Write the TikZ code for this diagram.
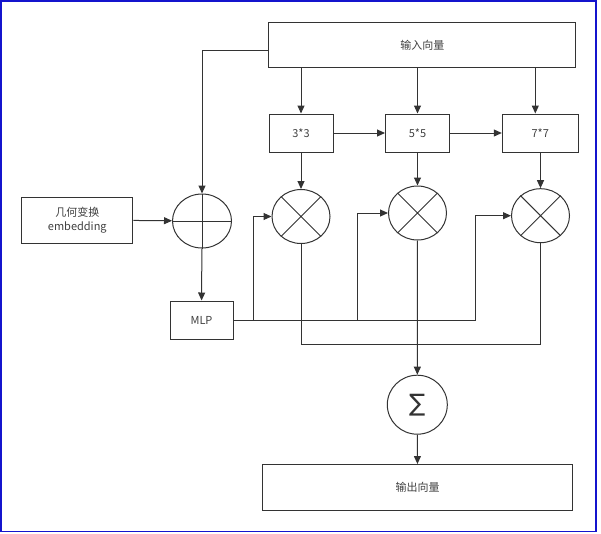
\documentclass[tikz,border=0pt]{standalone}
\usepackage{fontspec}
\setmainfont{Noto Sans CJK SC}
\newfontfamily\symfont{DejaVu Sans}
\usetikzlibrary{arrows.meta,shapes.geometric,calc}

\definecolor{linegray}{HTML}{333333}
\definecolor{textgray}{HTML}{404040}
\definecolor{frameblue}{RGB}{20,20,205}

\tikzset{
  box/.style={draw=linegray,line width=1pt,rectangle,inner sep=0pt,
    text=textgray,font=\fontsize{11}{14}\selectfont,align=center},
  op/.style={draw=linegray,line width=1pt,ellipse,inner sep=0pt,
    minimum width=58pt,minimum height=54pt},
  wire/.style={draw=linegray,line width=1pt},
  flow/.style={wire,-{Triangle[length=8pt,width=7pt]}}
}

\begin{document}
\begin{tikzpicture}[x=1pt,y=-1pt]

        \useasboundingbox (0,0) rectangle (601,533);
        \draw[frameblue,line width=1.5pt] (0.75,0.75) rectangle (596,531.5);

        \begin{scope}[every node/.style={box}]
          \node[minimum width=307pt,minimum height=45pt] (in)  at (422.3,45)  {输入向量};
          \node[minimum width=64pt,minimum height=38pt]  (k3)  at (301,133)   {3*3};
          \node[minimum width=64pt,minimum height=38pt]  (k5)  at (417.5,133) {5*5};
          \node[minimum width=76pt,minimum height=38pt]  (k7)  at (540.3,133) {7*7};
          \node[minimum width=111pt,minimum height=46pt] (geo) at (77.3,220)  {几何变换\\embedding};
          \node[minimum width=63pt,minimum height=38pt]  (mlp) at (201.5,320) {MLP};
          \node[minimum width=310pt,minimum height=46pt] (out) at (417.5,487.5) {输出向量};
        \end{scope}

        \begin{scope}[every node/.style={op}]
          \node[minimum width=59pt] (add) at (202,221)     {};
          \node (m1)  at (301,216.5)   {};
          \node (m2)  at (417.5,213)   {};
          \node (m3)  at (540.5,215.7) {};
          \node[minimum width=60pt,minimum height=59pt] (sum) at (417.3,404.7)
            {\symfont\fontsize{24}{24}\selectfont\color{linegray}∑};
        \end{scope}

        % signs inside the circles
        \draw[wire] (add.north) -- (add.south) (add.west) -- (add.east);
        \foreach \m in {m1,m2,m3}
          \draw[wire] (\m.45) -- (\m.225) (\m.135) -- (\m.315);

        \coordinate (j1) at (253,320);
        \coordinate (j2) at (357,320);
        \coordinate (j3) at (475,320);

        \begin{scope}[every edge/.style={flow}]
          \path (k3.north |- in.south) edge (k3.north);
          \path (k5.north |- in.south) edge (k5.north);
          \path ([xshift=-5pt]k7.north |- in.south) edge ([xshift=-5pt]k7.north);
          \path (k3) edge (k5);
          \path (k5) edge (k7);
          \path (k3) edge (m1);
          \path (k5) edge (m2);
          \path (k7.south -| m3) edge (m3);
          \path (geo) edge (add);
          \path (add) edge (mlp);
          \path (m2) edge (sum);
          \path (sum) edge (out);
        \end{scope}

        \draw[flow] ([yshift=-5pt]in.west) -| (add.north);
        \draw[flow] (mlp.east) -- (j1) |- (m1.west);
        \draw[flow] (j1) -- (j2) |- (m2.west);
        \draw[flow] (j2) -- (j3) |- (m3.west);
        \draw[wire] (m1.south) -- ++(0,100) -| (m3.south);

      \end{tikzpicture}
\end{document}
